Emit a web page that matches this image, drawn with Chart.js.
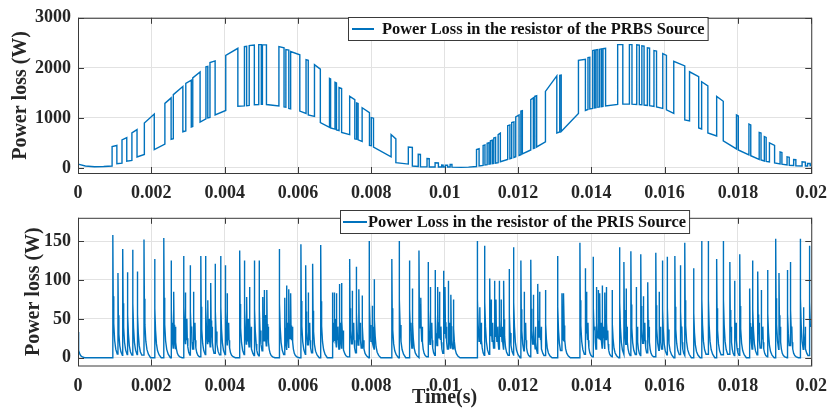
<!DOCTYPE html>
<html>
<head>
<meta charset="utf-8">
<script src="https://cdn.jsdelivr.net/npm/chart.js@4.4.1/dist/chart.umd.min.js"></script>
<style>
  html, body { margin: 0; padding: 0; background: #fff; }
  #wrap { position: relative; width: 837px; height: 418px; }
  #chart-prbs { position: absolute; left: 0; top: 0; }
  #chart-pris { position: absolute; left: 0; top: 200px; }
</style>
</head>
<body>
<div id="wrap">
  <canvas id="chart-prbs" width="837" height="200"></canvas>
  <canvas id="chart-pris" width="837" height="218"></canvas>
</div>
<script>
const LINE = '#0072bd';
const FONT = '"Liberation Serif", "Times New Roman", serif';

// --- Axes ---
const timeTicks = [0, 0.002, 0.004, 0.006, 0.008, 0.01, 0.012, 0.014, 0.016, 0.018, 0.02];
const prbsTicks = [0, 1000, 2000, 3000];
const prisTicks = [0, 50, 100, 150];

// --- PRBS source: resistor power (W) ---
// lead-in before the first pulse (time in ms)
const prbsLeadT = [0, 0.2, 0.45, 0.7];
const prbsLeadP = [77, 40, 25, 30];
// quiet stretch around the half-period
const prbsQuietT = [10.45, 10.65];
const prbsQuietP = [12, 18];
const prbsEndT = [20];
const prbsEndP = [50];

// each pulse: switch-on / switch-off time (ms), low level and high level at each edge (W)
const prbsOn  = [0.93, 1.20, 1.47, 1.81, 2.37, 2.60, 2.94, 3.13, 3.49, 3.60,
                 4.03, 4.54, 4.67, 4.93, 5.03, 5.48, 5.67, 5.80, 6.22, 6.45,
                 6.86, 7.01, 7.12, 7.41, 7.60, 7.75, 8.00, 8.54, 9.01, 9.28,
                 9.52, 9.74, 9.92, 10.02, 10.15,
                 10.87, 11.05, 11.16, 11.25, 11.34, 11.46, 11.72, 11.83, 11.94, 12.08,
                 12.35, 12.46, 12.75, 13.14, 13.65, 13.91, 14.04, 14.13, 14.23, 14.32,
                 14.72, 15.04, 15.24, 15.38, 15.53, 15.71, 15.95, 16.25, 16.68, 17.01,
                 17.42, 17.96, 18.30, 18.58, 18.72, 18.86, 19.15, 19.34, 19.52, 19.75, 19.90];
const prbsOff = [1.06, 1.33, 1.61, 2.08, 2.54, 2.86, 3.09, 3.33, 3.54, 3.74,
                 4.36, 4.60, 4.81, 5.00, 5.14, 5.62, 5.75, 6.05, 6.28, 6.61,
                 6.89, 7.05, 7.19, 7.55, 7.64, 7.95, 8.06, 8.67, 9.12, 9.34,
                 9.58, 9.83, 9.96, 10.08, 10.20,
                 10.94, 11.10, 11.21, 11.30, 11.39, 11.52, 11.78, 11.89, 12.03, 12.12,
                 12.42, 12.51, 13.06, 13.18, 13.84, 13.96, 14.09, 14.18, 14.28, 14.39,
                 14.86, 15.11, 15.31, 15.44, 15.59, 15.78, 16.05, 16.55, 16.93, 17.18,
                 17.60, 18.01, 18.35, 18.63, 18.77, 19.00, 19.20, 19.40, 19.58, 19.84, 19.97];
const prbsLoOn  = [40, 97, 150, 270, 477, 585, 740, 830, 980, 1010,
                   1150, 1240, 1250, 1268, 1270, 1240, 1215, 1180, 1091, 1030,
                   810, 775, 745, 667, 575, 530, 445, 222, 78, 30,
                   22, 20, 20, 20, 20,
                   30, 50, 65, 80, 90, 105, 170, 195, 225, 265,
                   360, 400, 520, 720, 1090, 1170, 1190, 1205, 1220, 1230,
                   1270, 1275, 1270, 1262, 1250, 1230, 1190, 1090, 941, 780,
                   640, 380, 260, 170, 140, 120, 80, 60, 50, 40, 40];
const prbsHiOn  = [430, 560, 703, 897, 1290, 1465, 1690, 1800, 2020, 2105,
                   2250, 2425, 2444, 2464, 2464, 2425, 2366, 2327, 2163, 2065,
                   1791, 1712, 1608, 1431, 1300, 1203, 1007, 667, 418, 275,
                   190, 105, 60, 55, 70,
                   370, 450, 495, 545, 600, 665, 843, 908, 1020, 1137,
                   1366, 1431, 1529, 1850, 2150, 2203, 2346, 2360, 2370, 2385,
                   2464, 2464, 2460, 2440, 2400, 2346, 2284, 2131, 1922, 1722,
                   1431, 1059, 876, 712, 627, 500, 320, 222, 170, 124, 92];
const prbsHiOff = [450, 606, 768, 1077, 1400, 1626, 1755, 1916, 2030, 2140,
                   2390, 2430, 2458, 2464, 2460, 2399, 2355, 2261, 2150, 1974,
                   1780, 1700, 1590, 1366, 1290, 1105, 995, 582, 410, 270,
                   185, 100, 58, 55, 70,
                   385, 460, 505, 555, 610, 695, 860, 920, 1059, 1145,
                   1400, 1445, 1839, 1855, 2170, 2210, 2355, 2365, 2379, 2390,
                   2464, 2464, 2455, 2435, 2395, 2335, 2250, 2040, 1824, 1640,
                   1333, 1040, 860, 700, 610, 451, 310, 215, 165, 118, 90];
const prbsLoOff = [84, 135, 220, 368, 574, 723, 820, 916, 1000, 1060,
                   1235, 1245, 1265, 1270, 1268, 1222, 1190, 1137, 1059, 908,
                   800, 758, 712, 582, 562, 451, 418, 105, 39, 25,
                   20, 20, 20, 20, 18,
                   40, 60, 75, 85, 95, 124, 185, 210, 250, 280,
                   390, 420, 700, 730, 1150, 1180, 1200, 1215, 1225, 1240,
                   1275, 1275, 1265, 1258, 1245, 1220, 1160, 960, 800, 700,
                   540, 360, 245, 160, 130, 100, 75, 55, 45, 40, 45];

// --- PRIS source: resistor power spikes, time (ms) and peak (W) ---
const prisT = [0.00, 0.95, 1.09, 1.22, 1.35, 1.49, 1.62, 1.80, 2.09, 2.34,
               2.54, 2.61, 2.88, 2.93, 3.06, 3.15, 3.35, 3.48, 3.54, 3.62,
               3.74, 3.89, 4.02, 4.07, 4.41, 4.54, 4.60, 4.68, 4.81, 4.94,
               5.04, 5.08, 5.15, 5.49, 5.64, 5.69, 5.75, 5.80, 6.08, 6.21,
               6.28, 6.40, 6.62, 6.94, 6.99, 7.05, 7.13, 7.19, 7.41, 7.48,
               7.59, 7.66, 7.75, 7.94, 8.02, 8.08, 8.56, 8.76, 9.04, 9.12,
               9.30, 9.35, 9.55, 9.61, 9.74, 9.81, 9.86, 9.97, 10.01, 10.10,
               10.17, 10.24, 10.89, 10.96, 11.09, 11.23, 11.27, 11.36, 11.40, 11.49,
               11.54, 11.61, 11.76, 11.88, 12.08, 12.17, 12.35, 12.42, 12.54, 12.59,
               12.75, 13.08, 13.20, 13.25, 13.69, 13.83, 13.87, 14.05, 14.14, 14.19,
               14.23, 14.30, 14.37, 14.41, 14.57, 14.77, 14.89, 14.95, 15.08, 15.22,
               15.35, 15.42, 15.54, 15.76, 15.85, 15.94, 16.07, 16.28, 16.43, 16.55,
               16.79, 17.01, 17.19, 17.42, 17.60, 17.78, 17.91, 18.05, 18.32, 18.40,
               18.54, 18.63, 18.81, 19.03, 19.12, 19.35, 19.43, 19.70, 19.79, 19.95];
const prisPeak = [33, 158, 109, 140, 110, 139, 111, 152, 127, 154,
                  125, 85, 131, 84, 119, 85, 131, 131, 74, 96,
                  121, 131, 119, 83, 138, 125, 78, 91, 125, 125,
                  78, 87, 87, 140, 77, 93, 88, 83, 146, 119,
                  84, 121, 145, 84, 84, 83, 95, 96, 127, 86,
                  117, 88, 80, 150, 67, 101, 127, 150, 125, 89,
                  138, 77, 123, 91, 113, 91, 85, 112, 91, 99,
                  81, 75, 150, 65, 144, 102, 75, 99, 75, 99,
                  75, 99, 114, 142, 125, 85, 126, 81, 95, 85,
                  87, 131, 83, 83, 148, 115, 85, 130, 91, 87,
                  83, 93, 84, 91, 87, 142, 123, 89, 137, 91,
                  133, 79, 97, 135, 85, 125, 130, 131, 119, 148,
                  115, 150, 150, 127, 150, 123, 99, 133, 89, 125,
                  111, 87, 113, 153, 109, 113, 123, 153, 65, 144];
// smaller spikes inside the dense bursts
const prisMinorT = [2.57, 2.66, 2.97, 3.10, 3.19, 3.58, 3.66, 4.11, 4.64, 4.72,
                    4.85, 5.11, 5.19, 5.72, 5.85, 6.32, 6.97, 7.02, 7.09, 7.16,
                    7.23, 7.52, 7.70, 8.05, 9.08, 9.39, 9.65, 9.90, 10.05, 10.13,
                    11.00, 11.31, 11.45, 11.58, 12.21, 12.48, 12.63, 13.23, 13.91, 14.10,
                    14.27, 14.34, 14.45, 14.98, 15.26, 15.46, 15.58, 15.89, 16.47, 17.82,
                    17.95, 18.36, 18.58, 18.68, 19.16, 19.47, 19.83];
const prisMinorPeak = [45, 40, 50, 40, 45, 50, 40, 45, 50, 40,
                       35, 55, 40, 45, 40, 45, 45, 50, 40, 45,
                       35, 45, 45, 40, 45, 40, 45, 40, 40, 45,
                       45, 45, 40, 40, 45, 40, 40, 45, 45, 40,
                       45, 40, 35, 40, 40, 45, 40, 40, 40, 40,
                       45, 40, 45, 40, 40, 40, 40];
// decay after each spike: time after the peak (ms) and share of the peak
const tailDt   = [0, 0.01, 0.025, 0.05, 0.08, 0.12, 0.18];
const tailFrac = [1, 0.5, 0.28, 0.14, 0.07, 0.03, 0];

// --- Build series ---
function prbsPoints() {
  const pts = [];
  prbsLeadT.forEach((t, i) => pts.push({ x: t / 1000, y: prbsLeadP[i] }));
  prbsOn.forEach((t, i) => {
    pts.push({ x: t / 1000, y: prbsLoOn[i] });
    pts.push({ x: t / 1000, y: prbsHiOn[i] });
    pts.push({ x: prbsOff[i] / 1000, y: prbsHiOff[i] });
    pts.push({ x: prbsOff[i] / 1000, y: prbsLoOff[i] });
  });
  prbsQuietT.forEach((t, i) => pts.push({ x: t / 1000, y: prbsQuietP[i] }));
  prbsEndT.forEach((t, i) => pts.push({ x: t / 1000, y: prbsEndP[i] }));
  return pts.sort((a, b) => a.x - b.x);
}

function prisPoints() {
  const spikes = prisT.map((t, i) => ({ t, p: prisPeak[i] }))
    .concat(prisMinorT.map((t, i) => ({ t, p: prisMinorPeak[i] })))
    .sort((a, b) => a.t - b.t);
  const pts = [];
  let level = 0;
  spikes.forEach((s, i) => {
    const next = i + 1 < spikes.length ? spikes[i + 1].t : 20;
    if (s.t > 0) pts.push({ x: s.t / 1000, y: level });
    for (let k = 0; k < tailDt.length; k++) {
      const t = s.t + tailDt[k];
      if (t >= next) break;
      level = s.p * tailFrac[k];
      pts.push({ x: t / 1000, y: level });
    }
  });
  pts.push({ x: 0.02, y: level });
  return pts;
}

// --- Plugins ---
// axes box with inward tick marks on all four sides
const frameBox = {
  id: 'frameBox',
  afterDraw(chart) {
    const { ctx, chartArea: a, scales } = chart;
    ctx.save();
    ctx.strokeStyle = '#3a3a3a';
    ctx.lineWidth = 1;
    ctx.strokeRect(a.left + 0.5, a.top + 0.5, a.right - a.left, a.bottom - a.top);
    ctx.beginPath();
    scales.x.ticks.forEach(t => {
      const px = Math.round(scales.x.getPixelForValue(t.value)) + 0.5;
      ctx.moveTo(px, a.bottom); ctx.lineTo(px, a.bottom - 6);
      ctx.moveTo(px, a.top); ctx.lineTo(px, a.top + 6);
    });
    scales.y.ticks.forEach(t => {
      const py = Math.round(scales.y.getPixelForValue(t.value)) + 0.5;
      ctx.moveTo(a.left, py); ctx.lineTo(a.left + 6, py);
      ctx.moveTo(a.right, py); ctx.lineTo(a.right - 6, py);
    });
    ctx.stroke();
    ctx.restore();
  }
};

const legendBox = {
  id: 'legendBox',
  afterDraw(chart, args, o) {
    const { ctx } = chart;
    const label = chart.data.datasets[0].label;
    ctx.save();
    ctx.font = `bold ${o.size}px ${FONT}`;
    const tw = ctx.measureText(label).width;
    const w = o.padL + o.lineLen + o.gap + tw + o.padR;
    ctx.fillStyle = '#fff';
    ctx.fillRect(o.x, o.y, w, o.h);
    ctx.strokeStyle = '#3a3a3a';
    ctx.lineWidth = 1;
    ctx.strokeRect(o.x + 0.5, o.y + 0.5, w, o.h);
    const cy = o.y + o.h / 2 + 0.5;
    ctx.strokeStyle = LINE;
    ctx.lineWidth = 2;
    ctx.beginPath();
    ctx.moveTo(o.x + o.padL, cy);
    ctx.lineTo(o.x + o.padL + o.lineLen, cy);
    ctx.stroke();
    ctx.fillStyle = '#111';
    ctx.textBaseline = 'middle';
    ctx.fillText(label, o.x + o.padL + o.lineLen + o.gap, cy + 1);
    ctx.restore();
  }
};

// --- Charts ---
const tickFont = { family: FONT, size: 18, weight: 'bold' };

function makeOptions(yMin, yMax, yTicks, opts) {
  return {
    animation: false,
    responsive: false,
    events: [],
    layout: { padding: { left: 0, right: 16, top: opts.top, bottom: 0 } },
    plugins: {
      legend: { display: false },
      tooltip: { enabled: false },
      legendBox: opts.legend,
    },
    scales: {
      x: {
        type: 'linear',
        min: 0,
        max: 0.02,
        afterBuildTicks: s => { s.ticks = timeTicks.map(v => ({ value: v })); },
        afterFit: s => { s.height = opts.xHeight; },
        grid: { color: '#e2e2e2', drawTicks: false },
        border: { display: false },
        ticks: {
          color: '#262626',
          font: tickFont,
          padding: 10,
          maxRotation: 0,
          autoSkip: false,
          callback: v => String(+v.toFixed(3)),
        },
        title: opts.xTitle,
      },
      y: {
        min: yMin,
        max: yMax,
        afterBuildTicks: s => { s.ticks = yTicks.map(v => ({ value: v })); },
        afterFit: s => { s.width = 78; },
        grid: { color: '#e2e2e2', drawTicks: false },
        border: { display: false },
        ticks: { color: '#262626', font: tickFont, padding: 7, callback: v => String(v) },
        title: {
          display: true,
          text: 'Power loss (W)',
          color: '#262626',
          font: { family: FONT, size: 20, weight: 'bold' },
          padding: { top: opts.yTitlePad, bottom: 0 },
        },
      },
    },
  };
}

const lineStyle = {
  borderColor: LINE,
  borderWidth: 1.4,
  pointRadius: 0,
  tension: 0,
  fill: false,
};

new Chart(document.getElementById('chart-prbs'), {
  type: 'line',
  data: {
    datasets: [{
      label: 'Power Loss in the resistor of the PRBS Source',
      data: prbsPoints(),
      ...lineStyle,
    }],
  },
  options: makeOptions(-100, 3000, prbsTicks, {
    top: 15,
    xHeight: 27,
    yTitlePad: 9,
    xTitle: { display: false },
    legend: { x: 348, y: 17, h: 23, size: 16.4, padL: 4, lineLen: 22, gap: 8, padR: 3 },
  }),
  plugins: [frameBox, legendBox],
});

new Chart(document.getElementById('chart-pris'), {
  type: 'line',
  data: {
    datasets: [{
      label: 'Power Loss in the resistor of the PRIS Source',
      data: prisPoints(),
      ...lineStyle,
    }],
  },
  options: makeOptions(-10, 180, prisTicks, {
    top: 8.5,
    xHeight: 52.5,
    yTitlePad: 22,
    xTitle: {
      display: true,
      text: 'Time(s)',
      color: '#262626',
      font: { family: FONT, size: 20, weight: 'bold' },
      padding: { top: 0, bottom: 8 },
    },
    legend: { x: 340, y: 10, h: 23, size: 16.4, padL: 3, lineLen: 24, gap: 1, padR: 3 },
  }),
  plugins: [frameBox, legendBox],
});
</script>
</body>
</html>
